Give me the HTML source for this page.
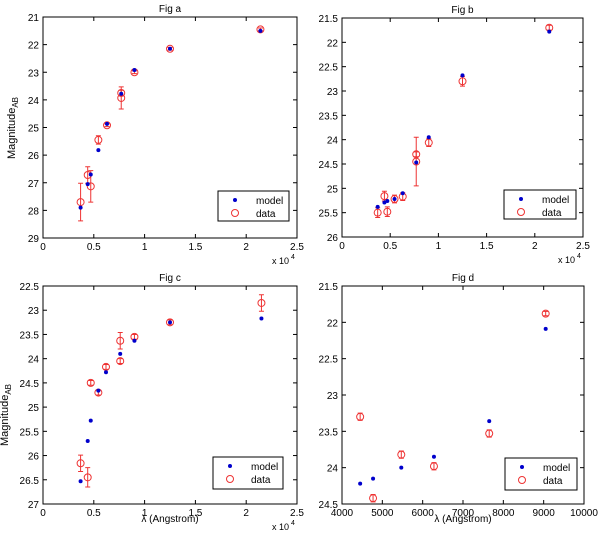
<!DOCTYPE html>
<html><head><meta charset="utf-8"><style>
body{margin:0;background:#fff}
svg text{font-family:"Liberation Sans","DejaVu Sans",sans-serif;fill:#000}
</style></head><body>
<svg id="fig" width="600" height="533" xmlns="http://www.w3.org/2000/svg"></svg>
<script>
// Panel a
const aModelX=[0.37,0.44,0.47,0.545,0.63,0.77,0.9,1.25,2.14];
const aModelY=[27.9,27.05,26.7,25.82,24.87,23.78,22.92,22.15,21.5];
const aDataX=[0.37,0.44,0.47,0.545,0.63,0.77,0.77,0.9,1.25,2.14];
const aDataY=[27.7,26.72,27.13,25.45,24.92,23.75,23.93,23.0,22.15,21.45];
const aDataErr=[0.68,0.3,0.57,0.15,0.05,0.1,0.4,0.05,0.05,0.05];
// Panel b
const bModelX=[0.37,0.44,0.47,0.545,0.63,0.77,0.9,1.25,2.15];
const bModelY=[25.38,25.29,25.26,25.22,25.1,24.47,23.95,22.68,21.78];
const bDataX=[0.37,0.44,0.47,0.545,0.63,0.77,0.77,0.9,1.25,2.15];
const bDataY=[25.5,25.16,25.48,25.22,25.17,24.3,24.45,24.06,22.8,21.7];
const bDataErr=[0.1,0.1,0.1,0.08,0.08,0.05,0.5,0.08,0.1,0.05];
// Panel c
const cModelX=[0.37,0.44,0.47,0.545,0.62,0.76,0.9,1.25,2.15];
const cModelY=[26.53,25.7,25.28,24.66,24.28,23.9,23.63,23.25,23.17];
const cDataX=[0.37,0.44,0.47,0.545,0.62,0.76,0.76,0.9,1.25,2.15];
const cDataY=[26.16,26.45,24.5,24.7,24.17,23.63,24.05,23.55,23.25,22.85];
const cDataErr=[0.17,0.2,0.05,0.05,0.05,0.17,0.05,0.05,0.05,0.17];
// Panel d
const dModelX=[4450,4770,5470,6280,7650,9050];
const dModelY=[24.22,24.15,24.0,23.85,23.36,22.09];
const dDataX=[4450,4770,5470,6280,7650,9050];
const dDataY=[23.3,24.42,23.82,23.98,23.53,21.88];
const dDataErr=[0.05,0.05,0.05,0.05,0.05,0.03];
// ticks
const xTicksA=[0,0.5,1,1.5,2,2.5];
const xTickLabelsA=["0","0.5","1","1.5","2","2.5"];
const xTicksD=[4000,5000,6000,7000,8000,9000,10000];
const xTickLabelsD=["4000","5000","6000","7000","8000","9000","10000"];
const yTicksA=[21,22,23,24,25,26,27,28,29];
const yTicksB=[21.5,22,22.5,23,23.5,24,24.5,25,25.5,26];
const yTicksC=[22.5,23,23.5,24,24.5,25,25.5,26,26.5,27];
const yTicksD=[21.5,22,22.5,23,23.5,24,24.5];

const svg=document.getElementById('fig');
const NS="http://www.w3.org/2000/svg";
function mk(tag,attrs,parent){const e=document.createElementNS(NS,tag);for(const k in attrs)e.setAttribute(k,attrs[k]);(parent||svg).appendChild(e);return e;}
function txt(s,x,y,anchor,size,parent){const t=mk('text',{x:x,y:y,'text-anchor':anchor||'middle','font-size':size||10},parent);t.textContent=s;return t;}

function panel(o){
  const g=mk('g',{});
  
  
  const sx=v=>o.l+(v-o.x0)/(o.x1-o.x0)*(o.r-o.l);
  const sy=v=>o.t+(v-o.y0)/(o.y1-o.y0)*(o.b-o.t);
  const box=mk('rect',{x:o.l,y:o.t,width:o.r-o.l,height:o.b-o.t,fill:'#fff',stroke:'#000','stroke-width':1},g);
  
  
  o.xt.forEach((v,i)=>{const x=sx(v);
    mk('line',{x1:x,x2:x,y1:o.b,y2:o.b-4,stroke:'#000'},g);
    mk('line',{x1:x,x2:x,y1:o.t,y2:o.t+4,stroke:'#000'},g);
    const t=txt(o.xl[i],x,o.b+12,'middle',10,g);
    
    });
  o.yt.forEach(v=>{const y=sy(v);
    mk('line',{x1:o.l,x2:o.l+4,y1:y,y2:y,stroke:'#000'},g);
    mk('line',{x1:o.r,x2:o.r-4,y1:y,y2:y,stroke:'#000'},g);
    const t=txt(String(v),o.l-4,y+4,'end',10,g);
    
    });
  const ti=txt(o.title,(o.l+o.r)/2,o.t-5,'middle',10,g);
  
  
  if(o.exp){const e=txt('x 10',o.r-8,o.b+26,'end',9,g);
    
    
    txt('4',o.r-6,o.b+21,'start',7,g);}
  o.dx.forEach((v,i)=>{const x=sx(v),y=sy(o.dy[i]),e1=sy(o.dy[i]-o.de[i]),e2=sy(o.dy[i]+o.de[i]);
    const eb=mk('path',{d:`M${x},${e1}V${e2}M${x-2.5},${e1}H${x+2.5}M${x-2.5},${e2}H${x+2.5}`,stroke:'#e33',fill:'none','stroke-width':1},g);
    
    
    const c=mk('circle',{cx:x,cy:y,r:3.5,fill:'none',stroke:'#e33','stroke-width':1},g);
    
    });
  o.mx.forEach((v,i)=>{const c=mk('circle',{cx:sx(v),cy:sy(o.my[i]),r:2,fill:'#00c'},g);
    
    });
  const L=o.leg;
  const lg=mk('g',{},g);
  
  
  mk('rect',{x:L[0],y:L[1],width:L[2],height:L[3],fill:'#fff',stroke:'#000'},lg);
  mk('circle',{cx:L[0]+17,cy:L[1]+9,r:2,fill:'#00c'},lg);
  const t1=txt('model',L[0]+38,L[1]+13,'start',10,lg);
  
  
  mk('circle',{cx:L[0]+17,cy:L[1]+22,r:3.5,fill:'none',stroke:'#e33'},lg);
  const t2=txt('data',L[0]+38,L[1]+26,'start',10,lg);
  
  
}
panel({name:'panel-a',title:'Fig a',l:43,r:297,t:17,b:238,x0:0,x1:2.5,y0:21,y1:29,xt:xTicksA,xl:xTickLabelsA,yt:yTicksA,exp:true,mx:aModelX,my:aModelY,dx:aDataX,dy:aDataY,de:aDataErr,leg:[218,191,71,30]});
panel({name:'panel-b',title:'Fig b',l:342,r:583,t:18,b:237,x0:0,x1:2.5,y0:21.5,y1:26,xt:xTicksA,xl:xTickLabelsA,yt:yTicksB,exp:true,mx:bModelX,my:bModelY,dx:bDataX,dy:bDataY,de:bDataErr,leg:[504,190,72,29]});
panel({name:'panel-c',title:'Fig c',l:43,r:297,t:286,b:504,x0:0,x1:2.5,y0:22.5,y1:27,xt:xTicksA,xl:xTickLabelsA,yt:yTicksC,exp:true,mx:cModelX,my:cModelY,dx:cDataX,dy:cDataY,de:cDataErr,leg:[213,457,70,32]});
panel({name:'panel-d',title:'Fig d',l:342,r:584,t:286,b:504,x0:4000,x1:10000,y0:21.5,y1:24.5,xt:xTicksD,xl:xTickLabelsD,yt:yTicksD,exp:false,mx:dModelX,my:dModelY,dx:dDataX,dy:dDataY,de:dDataErr,leg:[505,458,72,32]});
// axis titles
function ylab(cx,cy){const g=mk('g',{transform:`translate(${cx},${cy}) rotate(-90)`});
  
  
  const t=mk('text',{x:0,y:0,'text-anchor':'middle','font-size':11},g);
  t.innerHTML='Magnitude<tspan font-size="8" dy="3">AB</tspan>';}
ylab(15,128);ylab(8,415);
const xl1=txt('λ (Angstrom)',170,522,'middle',10);


const xl2=txt('λ (Angstrom)',463,522,'middle',10);


</script>
</body></html>
